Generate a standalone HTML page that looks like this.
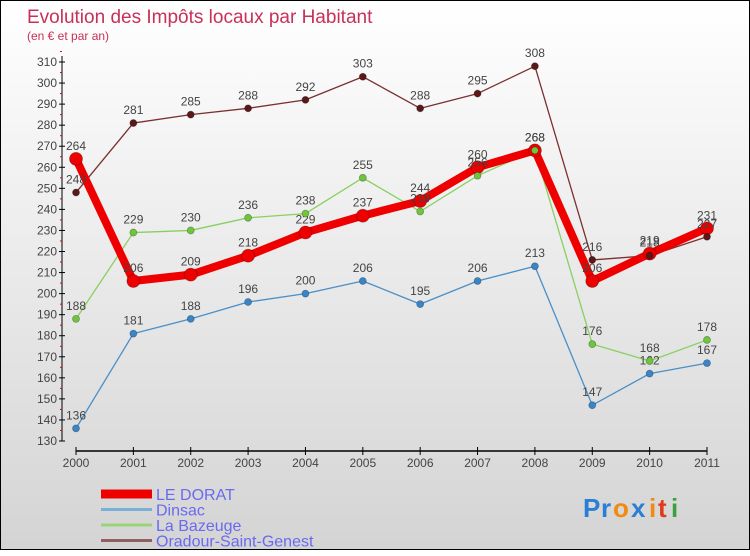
<!DOCTYPE html>
<html><head><meta charset="utf-8"><style>
body{margin:0;width:750px;height:550px;overflow:hidden}
#c{position:absolute;left:0;top:0;width:748px;height:548px;border:1px solid #000;background:linear-gradient(#ffffff,#d4d4d4);font-family:"Liberation Sans",sans-serif}
</style></head><body>
<div id="c">
<svg id="s" width="750" height="550" xmlns="http://www.w3.org/2000/svg">
<text x="26" y="22" font-size="19" fill="#c8305a">Evolution des Impôts locaux par Habitant</text>
<text x="26" y="39" font-size="12" fill="#c8305a">(en € et par an)</text>
<g id="axes"></g><g id="lines"></g><g id="points"></g><g id="legend"></g>
<g font-size="26" font-weight="bold">
<text x="582" y="516" fill="#2a7fd4">P</text><text x="600" y="516" fill="#2a7fd4">r</text><text x="612" y="516" fill="#f08a10">o</text><text x="630" y="516" fill="#2a7fd4">x</text><text x="648" y="516" fill="#f08a10">i</text><text x="657" y="516" fill="#e23a1a">t</text><text x="670" y="516" fill="#3aa040">i</text>
</g>
</svg></div>
<script>
const years=["2000","2001","2002","2003","2004","2005","2006","2007","2008","2009","2010","2011"];
const leDorat=[264,206,209,218,229,237,244,260,268,206,219,231];
const dinsac=[136,181,188,196,200,206,195,206,213,147,162,167];
const laBazeuge=[188,229,230,236,238,255,239,256,268,176,168,178];
const oradour=[248,281,285,288,292,303,288,295,308,216,218,227];
const yTicks=[130,140,150,160,170,180,190,200,210,220,230,240,250,260,270,280,290,300,310];
const NS="http://www.w3.org/2000/svg";
const X=i=>75+i*(706-75)/11;
const Y=v=>440-(v-130)*(379/180);
function mk(t,a,p){const e=document.createElementNS(NS,t);for(const k in a)e.setAttribute(k,a[k]);p.appendChild(e);return e;}
const ax=document.getElementById('axes');
let yl=mk('line',{x1:61,y1:55,x2:61,y2:440,stroke:'#000'},ax);


yTicks.forEach(v=>{
 mk('line',{x1:58,x2:64,y1:Y(v),y2:Y(v),stroke:'#000'},ax);
 mk('line',{x1:59,x2:61,y1:Y(v+5),y2:Y(v+5),stroke:'#e00'},ax);
 const t=mk('text',{x:56,y:Y(v)+4,'font-size':12,fill:'#444','text-anchor':'end'},ax);t.textContent=v;
 
 
});
let xl=mk('line',{x1:75,y1:450,x2:706,y2:450,stroke:'#000','stroke-width':1.5},ax);


years.forEach((y,i)=>{
 mk('line',{x1:X(i),x2:X(i),y1:446,y2:454,stroke:'#000'},ax);
 const t=mk('text',{x:X(i),y:466,'font-size':12,fill:'#444','text-anchor':'middle'},ax);t.textContent=y;
 
 
});
const lgp=document.getElementById('lines');
const pg=document.getElementById('points');
const series=[
 {n:'dinsac',d:dinsac,c:'#4a8fc8',w:1.3,r:3.5,f:'#3a85c8'},
 {n:'la-bazeuge',d:laBazeuge,c:'#88d060',w:1.3,r:3.5,f:'#6cc83a'},
 {n:'oradour',d:oradour,c:'#7a3030',w:1.3,r:3.5,f:'#5a1818'},
 {n:'le-dorat',d:leDorat,c:'#ee0000',w:8,r:6.5,f:'#ee0000'}];
series.forEach(s=>{
 const pl=mk('polyline',{points:s.d.map((v,i)=>X(i)+','+Y(v)).join(' '),fill:'none',stroke:s.c,'stroke-width':s.w,'stroke-linejoin':'round'},lgp);
 
 
});
[series[3],series[0],series[1],series[2]].forEach(s=>{
 const g=mk('g',{},pg);
 
 
 s.d.forEach((v,i)=>{
  const c=mk('circle',{cx:X(i),cy:Y(v),r:s.r,fill:s.f,stroke:'rgba(0,0,0,0.3)','stroke-width':0.8},g);
  
  
  const t=mk('text',{x:X(i),y:Y(v)-9,'font-size':12,fill:'#444','text-anchor':'middle'},g);t.textContent=v;
  
  
 });
});
const lg=document.getElementById('legend');
const leg=[['LE DORAT','#ee0000',9],['Dinsac','#7ab0d8',3],['La Bazeuge','#9ad47a',3],['Oradour-Saint-Genest','#906060',3]];
leg.forEach((l,i)=>{
 const y=493+i*15.5;
 const g=mk('g',{},lg);
 
 
 mk('line',{x1:100,x2:151,y1:y,y2:y,stroke:l[1],'stroke-width':l[2]},g);
 const t=mk('text',{x:155,y:y+6,'font-size':16,fill:'#6a6af0'},g);t.textContent=l[0];
});
</script>
</body></html>
